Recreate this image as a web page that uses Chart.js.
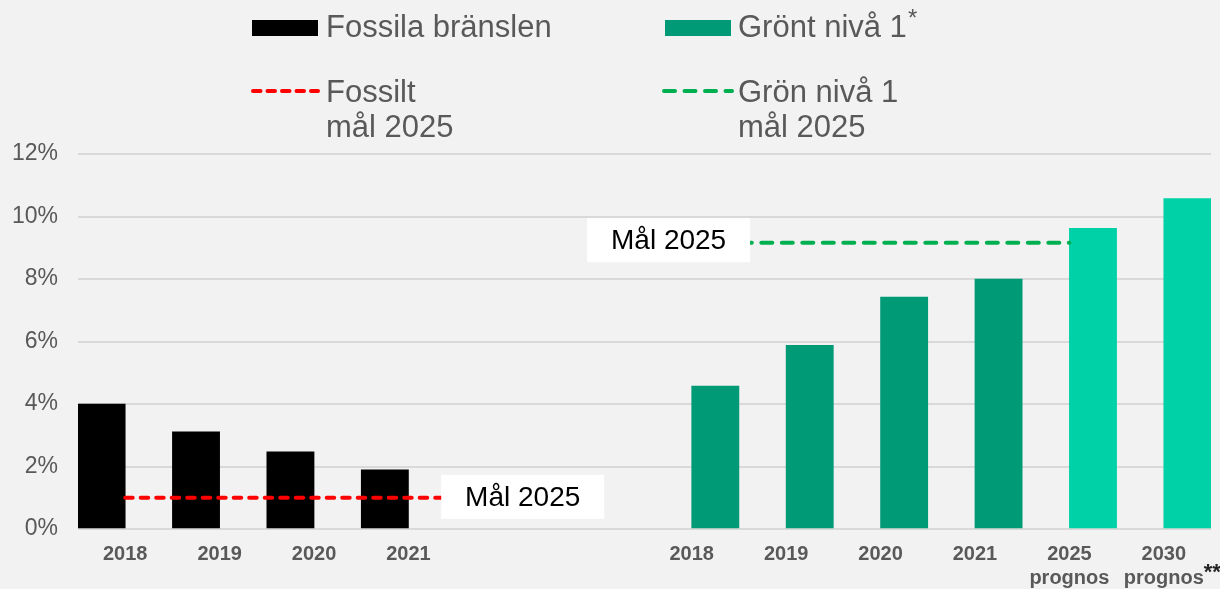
<!DOCTYPE html>
<html>
<head>
<meta charset="utf-8">
<script src="https://cdn.jsdelivr.net/npm/chart.js@4.4.1/dist/chart.umd.min.js"></script>
<style>
  html, body { margin: 0; padding: 0; background: #f2f2f2; }
  canvas { display: block; }
</style>
</head>
<body>
<canvas id="chart" width="1220" height="589"></canvas>
<script>
// data (percent)
const categories = ['2018', '2019', '2020', '2021', '', '', '2018', '2019', '2020', '2021', ['2025', 'prognos'], ['2030', 'prognos']];
const fossilValues = [4.0, 3.11, 2.47, 1.89, null, null, null, null, null, null, null, null];
const greenValues = [null, null, null, null, null, null, 4.57, 5.88, 7.42, 8.0, 9.62, 10.57];
const fossilTarget = [1, 1, 1, 1, 1, null, null, null, null, null, null, null];
const greenTarget = [null, null, null, null, null, 9.16, 9.16, 9.16, 9.16, 9.16, 9.16, null];
const yTicks = [0, 2, 4, 6, 8, 10, 12];

const FONT = '"Liberation Sans", Arial, sans-serif';
const GREY = '#595959';
const DARK_GREEN = '#009a77';
const LIGHT_GREEN = '#00d1a6';

// "Mål 2025" boxes, anchored in data units
const targetLabels = [
  { text: 'Mål 2025', x: 4.21, y: 1.03 },
  { text: 'Mål 2025', x: 5.755, y: 9.24 }
];

const targetBoxes = {
  id: 'targetBoxes',
  afterDatasetsDraw(chart) {
    const { ctx, scales: { x, y } } = chart;
    ctx.save();
    ctx.font = '28px ' + FONT;
    ctx.textAlign = 'center';
    ctx.textBaseline = 'middle';
    targetLabels.forEach(l => {
      const cx = x.getPixelForValue(l.x);
      const cy = y.getPixelForValue(l.y);
      ctx.fillStyle = '#ffffff';
      ctx.fillRect(cx - 81.5, cy - 22, 163, 44);
      ctx.fillStyle = '#000000';
      ctx.fillText(l.text, cx, cy + 1);
    });
    ctx.restore();
  }
};

// legend at the top, drawn by hand (2 x 2 grid, multi-line labels)
const topLegend = {
  id: 'topLegend',
  afterDraw(chart) {
    const ctx = chart.ctx;
    ctx.save();
    ctx.fillStyle = '#000000';
    ctx.fillRect(252, 20, 66, 16);
    ctx.fillStyle = DARK_GREEN;
    ctx.fillRect(665, 20, 66, 16);

    ctx.lineWidth = 4;
    ctx.lineCap = 'round';
    ctx.strokeStyle = '#ff0000';
    ctx.setLineDash([7.5, 7]);
    ctx.beginPath(); ctx.moveTo(253, 91); ctx.lineTo(318, 91); ctx.stroke();
    ctx.strokeStyle = '#00b050';
    ctx.setLineDash([11, 9.5]);
    ctx.beginPath(); ctx.moveTo(664, 91); ctx.lineTo(732, 91); ctx.stroke();
    ctx.setLineDash([]);

    ctx.fillStyle = GREY;
    ctx.font = '31px ' + FONT;
    ctx.textAlign = 'left';
    ctx.textBaseline = 'alphabetic';
    ctx.fillText('Fossila bränslen', 326, 37);
    ctx.fillText('Grönt nivå 1', 738, 37);
    ctx.fillText('Fossilt', 326, 102);
    ctx.fillText('mål 2025', 326, 137);
    ctx.fillText('Grön nivå 1', 738, 102);
    ctx.fillText('mål 2025', 738, 137);
    ctx.font = '24px ' + FONT;
    ctx.fillText('*', 908, 26);

    // footnote marks after the last tick label
    const x = chart.scales.x;
    ctx.font = 'bold 22px ' + FONT;
    ctx.fillStyle = '#262626';
    ctx.fillText('**', x.getPixelForTick(11) + 40, 579);
    ctx.restore();
  }
};

new Chart(document.getElementById('chart'), {
  type: 'bar',
  data: {
    labels: categories,
    datasets: [
      {
        type: 'line',
        label: 'Fossilt mål 2025',
        data: fossilTarget,
        borderColor: '#ff0000',
        borderWidth: 4,
        borderDash: [7.5, 8],
        borderCapStyle: 'round',
        pointRadius: 0,
        order: 1
      },
      {
        type: 'line',
        label: 'Grön nivå 1 mål 2025',
        data: greenTarget,
        borderColor: '#00b050',
        borderWidth: 4,
        borderDash: [11, 9.5],
        borderCapStyle: 'round',
        pointRadius: 0,
        order: 1
      },
      {
        label: 'Fossila bränslen',
        data: fossilValues,
        backgroundColor: '#000000',
        categoryPercentage: 1,
        barPercentage: 1,
        order: 2
      },
      {
        label: 'Grönt nivå 1',
        data: greenValues,
        backgroundColor: ctx => ctx.dataIndex >= 10 ? LIGHT_GREEN : DARK_GREEN,
        categoryPercentage: 1,
        barPercentage: 1,
        order: 2
      }
    ]
  },
  options: {
    responsive: false,
    animation: false,
    layout: { padding: { top: 154, right: 9, left: 0, bottom: 0 } },
    plugins: {
      legend: { display: false },
      tooltip: { enabled: false }
    },
    scales: {
      x: {
        grid: { display: false, drawTicks: false },
        border: { display: false },
        ticks: {
          color: GREY,
          padding: 13,
          maxRotation: 0,
          autoSkip: false,
          font: { family: FONT, size: 20, weight: 'bold', lineHeight: 1.2 }
        },
        afterFit: s => { s.height = 60; }
      },
      y: {
        min: 0,
        max: 12,
        afterBuildTicks: s => { s.ticks = yTicks.map(v => ({ value: v })); },
        grid: { color: '#d9d9d9', lineWidth: 2, drawTicks: false },
        border: { display: false },
        ticks: {
          color: GREY,
          padding: 20,
          font: { family: FONT, size: 23 },
          callback: v => v + '%'
        },
        afterFit: s => { s.width = 78; }
      }
    }
  },
  plugins: [targetBoxes, topLegend]
});
</script>
</body>
</html>
